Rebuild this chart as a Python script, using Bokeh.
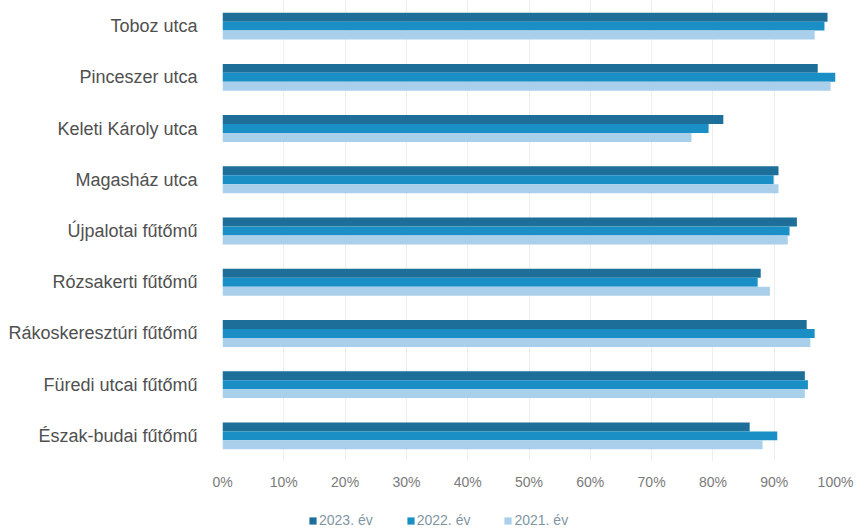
from bokeh.plotting import figure
from bokeh.layouts import column
from bokeh.models import FactorRange, Range1d, Legend, LegendItem, SingleIntervalTicker, PrintfTickFormatter
from bokeh.transform import dodge
from bokeh.models import ColumnDataSource
from bokeh.embed import file_html
from bokeh.resources import INLINE

categories = ["Toboz utca", "Pinceszer utca", "Keleti Károly utca", "Magasház utca",
              "Újpalotai fűtőmű", "Rózsakerti fűtőmű", "Rákoskeresztúri fűtőmű",
              "Füredi utcai fűtőmű", "Észak-budai fűtőmű"]
v2023 = [98.7, 97.1, 81.7, 90.7, 93.7, 87.8, 95.3, 95.0, 86.0]
v2022 = [98.2, 100.0, 79.3, 89.9, 92.5, 87.3, 96.6, 95.5, 90.5]
v2021 = [96.6, 99.2, 76.5, 90.7, 92.2, 89.3, 95.9, 95.0, 88.1]
series_names = ["2023. év", "2022. év", "2021. év"]
colors = ["#1d6e98", "#1a8fc6", "#a9cfea"]

src = ColumnDataSource(dict(cat=categories, a=v2023, b=v2022, c=v2021))

p = figure(width=861, height=500, output_backend="svg", toolbar_location=None,
           y_range=FactorRange(*reversed(categories)), x_range=Range1d(0, 100),
           min_border_left=222, min_border_right=26, min_border_top=0, min_border_bottom=39)

bh = 0.175
p.hbar(y=dodge("cat", bh, range=p.y_range), right="a", left=0, height=bh, source=src,
       color=colors[0], line_color=None)
p.hbar(y=dodge("cat", 0, range=p.y_range), right="b", left=0, height=bh, source=src,
       color=colors[1], line_color=None)
p.hbar(y=dodge("cat", -bh, range=p.y_range), right="c", left=0, height=bh, source=src,
       color=colors[2], line_color=None)

p.outline_line_color = None
p.ygrid.grid_line_color = None
p.xgrid.grid_line_color = "#eeeeee"
p.xaxis.ticker = SingleIntervalTicker(interval=10)
p.xaxis.formatter = PrintfTickFormatter(format="%d%%")
for ax in (p.xaxis, p.yaxis):
    ax.axis_line_color = None
    ax.major_tick_line_color = None
    ax.minor_tick_line_color = None
    ax.major_tick_out = 0
    ax.major_tick_in = 0
    ax.minor_tick_out = 0
    ax.major_label_text_font = "Liberation Sans"
p.xaxis.major_label_text_font_size = "14px"
p.xaxis.major_label_text_color = "#7a7a7a"
p.xaxis.major_label_standoff = 12
p.yaxis.major_label_text_font_size = "18px"
p.yaxis.major_label_text_color = "#505050"
p.yaxis.major_label_standoff = 25

# legend strip below the chart
pl = figure(width=861, height=30, output_backend="svg", toolbar_location=None,
            x_axis_type=None, y_axis_type=None, x_range=Range1d(0, 1), y_range=Range1d(0, 1),
            min_border=0)
pl.outline_line_color = None
pl.grid.grid_line_color = None
lr = [pl.hbar(y=[-10], right=[-9], left=[-10], height=1, color=c, line_color=None) for c in colors]
legend = Legend(items=[LegendItem(label=n, renderers=[r]) for n, r in zip(series_names, lr)],
                orientation="horizontal", location=(86, 2),
                label_text_font="Liberation Sans", label_text_font_size="14px",
                label_text_color="#7f95a3", glyph_width=9, glyph_height=9,
                label_standoff=2, spacing=33, padding=0, margin=0,
                border_line_color=None, background_fill_alpha=0)
pl.add_layout(legend)

layout = column(p, pl, spacing=0)
open("out.html", "w").write(file_html(layout, INLINE))
